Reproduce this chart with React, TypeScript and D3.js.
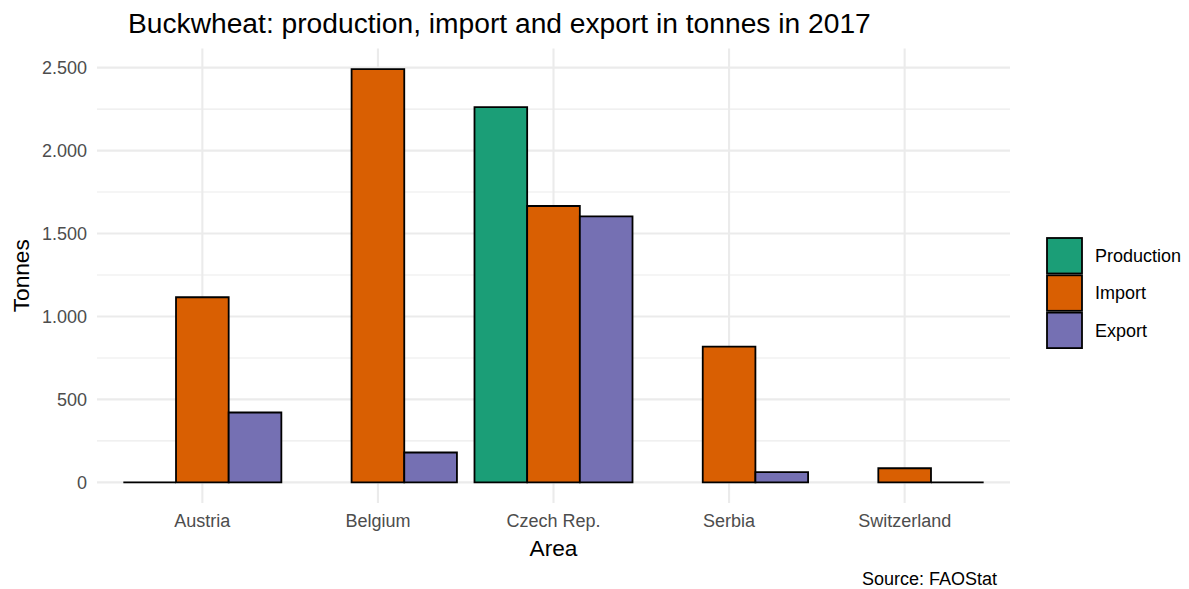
import React from "react";
import * as d3 from "d3";

const categories = ["Austria", "Belgium", "Czech Rep.", "Serbia", "Switzerland"];
const seriesNames = ["Production", "Import", "Export"];
const production: (number | null)[] = [0, null, 2262, null, null];
const importVals: (number | null)[] = [1116, 2491, 1666, 818, 85];
const exportVals: (number | null)[] = [421, 180, 1604, 61, 0];
const yTicks = [0, 500, 1000, 1500, 2000, 2500];
const yTickLabels = ["0", "500", "1.000", "1.500", "2.000", "2.500"];
const yMinor = [250, 750, 1250, 1750, 2250];
const colors = ["#1B9E77", "#D95F02", "#7570B3"];

const W = 1189;
const H = 589;
const panel = { left: 97, right: 1010, top: 48.5, bottom: 503 };
const font = "'Liberation Sans', Arial, Helvetica, sans-serif";

export default function App() {
  const seriesData = [production, importVals, exportVals];
  const maxV = d3.max(seriesData.flat().filter((v) => v != null) as number[]) as number;
  const y = d3
    .scaleLinear()
    .domain([-0.05 * maxV, maxV * 1.05])
    .range([panel.bottom, panel.top]);
  const x = d3.scalePoint<string>().domain(categories).range([panel.left, panel.right]).padding(0.6);
  const step = x.step();
  const groupW = step * 0.9;
  const inner = d3.scaleBand<string>().domain(seriesNames).range([-groupW / 2, groupW / 2]).padding(0);

  return (
    <svg width={W} height={H} style={{ position: "absolute", left: 0, top: 0, background: "#fff" }} fontFamily={font}>
      {/* grid */}
      {yMinor.map((v) => (
        <line key={"mn" + v} x1={panel.left} x2={panel.right} y1={y(v)} y2={y(v)} stroke="#EBEBEB" strokeWidth={1.1} />
      ))}
      {yTicks.map((v) => (
        <line key={"mj" + v} x1={panel.left} x2={panel.right} y1={y(v)} y2={y(v)} stroke="#EBEBEB" strokeWidth={2.1} />
      ))}
      {categories.map((c) => (
        <line key={"vg" + c} x1={x(c)} x2={x(c)} y1={panel.top} y2={panel.bottom} stroke="#EBEBEB" strokeWidth={2.1} />
      ))}
      {/* bars */}
      {seriesData.map((vals, si) =>
        vals.map((v, ci) => {
          if (v == null) return null;
          const x0 = (x(categories[ci]) as number) + (inner(seriesNames[si]) as number);
          const w = inner.bandwidth();
          const yTop = y(v);
          const y0 = y(0);
          const d = `M${x0},${y0}L${x0 + w},${y0}L${x0 + w},${yTop}L${x0},${yTop}Z`;
          return <path key={si + "-" + ci} d={d} fill={colors[si]} stroke="#000" strokeWidth={1.8} />;
        })
      )}
      {/* y tick labels */}
      {yTicks.map((v, i) => (
        <text key={"yt" + v} x={87} y={y(v)} dy="0.35em" textAnchor="end" fontSize={18} fill="#4D4D4D">
          {yTickLabels[i]}
        </text>
      ))}
      {/* x tick labels */}
      {categories.map((c) => (
        <text key={"xt" + c} x={x(c)} y={527} textAnchor="middle" fontSize={18} fill="#4D4D4D">
          {c}
        </text>
      ))}
      {/* axis titles */}
      <text x={(panel.left + panel.right) / 2} y={556} textAnchor="middle" fontSize={22.7} fill="#000">
        Area
      </text>
      <text
        transform={`translate(29, ${(panel.top + panel.bottom) / 2}) rotate(-90)`}
        textAnchor="middle"
        fontSize={22.7}
        fill="#000"
      >
        Tonnes
      </text>
      {/* title */}
      <text x={128} y={33} fontSize={28.2} fill="#000">
        Buckwheat: production, import and export in tonnes in 2017
      </text>
      {/* caption */}
      <text x={panel.right - 13} y={585} textAnchor="end" fontSize={18} fill="#000">
        Source: FAOStat
      </text>
      {/* legend */}
      {seriesNames.map((s, i) => (
        <g key={"lg" + s} transform={`translate(1047, ${238 + i * 37.3})`}>
          <rect x={0} y={0} width={35} height={35.5} fill={colors[i]} stroke="#000" strokeWidth={1.8} />
          <text x={48} y={17.75} dy="0.35em" fontSize={18} fill="#000">
            {s}
          </text>
        </g>
      ))}
    </svg>
  );
}
